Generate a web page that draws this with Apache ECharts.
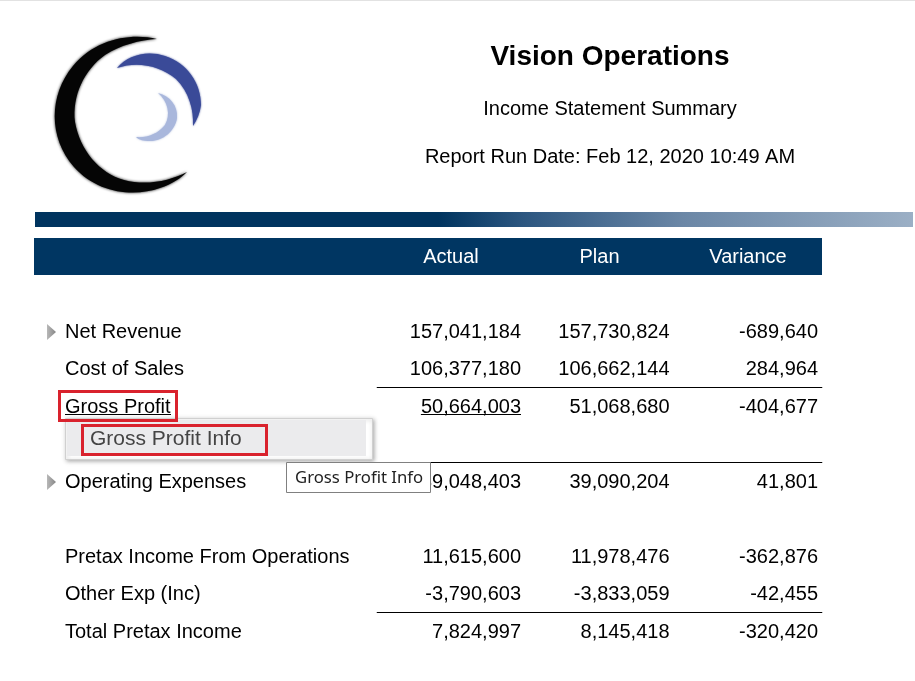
<!DOCTYPE html>
<html>
<head>
<meta charset="utf-8">
<title>Income Statement Summary</title>
<style>
  html, body { margin: 0; padding: 0; background: #fff; overflow: hidden; }
  #main { width: 915px; height: 681px; }
</style>
<script src="https://cdn.jsdelivr.net/npm/echarts@6/dist/echarts.min.js"></script>
</head>
<body>
<div id="main"></div>
<script>
var columns = ['Actual', 'Plan', 'Variance'];
var rows = ['', 'Net Revenue', 'Cost of Sales', 'Gross Profit', '', 'Operating Expenses', '',
  'Pretax Income From Operations', 'Other Exp (Inc)', 'Total Pretax Income'];
var actual = [null, 157041184, 106377180, 50664003, null, 39048403, null, 11615600, -3790603, 7824997];
var plan = [null, 157730824, 106662144, 51068680, null, 39090204, null, 11978476, -3833059, 8145418];
var variance = [null, -689640, 284964, -404677, null, 41801, null, -362876, -42455, -320420];
var ruleRows = [3, 5, 9];         // a line on top of these rows
var expandRows = [1, 5];          // rows with the grey arrow
var underlined = [[0, 3]];        // [column, row]

var FONT = '"Liberation Sans", Arial, sans-serif';
var ctx = document.createElement('canvas').getContext('2d');
ctx.font = '20px ' + FONT;

var cells = [];
[actual, plan, variance].forEach(function (list, c) {
  list.forEach(function (v, r) {
    if (v !== null) cells.push([c, r, v]);
  });
});

function renderCell(params, api) {
  var p = api.coord([api.value(0), api.value(1)]);
  var half = api.size([1, 0])[0] / 2;
  var str = api.value(2).toLocaleString('en-US');
  var right = p[0] + half - 4.25;
  var kids = [{
    type: 'text',
    style: { x: right, y: p[1], text: str, fill: '#000', font: '20px ' + FONT, align: 'right', verticalAlign: 'middle' }
  }];
  var isUnder = underlined.some(function (u) { return u[0] === api.value(0) && u[1] === api.value(1); });
  if (isUnder) {
    kids.push({
      type: 'line',
      shape: { x1: right - ctx.measureText(str).width, y1: Math.round(p[1] + 8) - 0.5, x2: right, y2: Math.round(p[1] + 8) - 0.5 },
      style: { stroke: '#000', lineWidth: 1 }
    });
  }
  return { type: 'group', children: kids };
}

function renderRule(params, api) {
  var p0 = api.coord([0, api.value(0)]);
  var p1 = api.coord([2, api.value(0)]);
  var s = api.size([1, 1]);
  // rules sit a pixel above the band edge
  var y = Math.round(p0[1] - s[1] / 2) - 0.5;
  return {
    type: 'line',
    shape: { x1: p0[0] - s[0] / 2, y1: y, x2: p1[0] + s[0] / 2, y2: y },
    style: { stroke: '#000', lineWidth: 1 }
  };
}

function renderArrow(params, api) {
  var p = api.coord([0, api.value(0)]);
  var x = 47;
  return {
    type: 'polygon',
    shape: { points: [[x, p[1] - 8], [x + 9, p[1]], [x, p[1] + 8]] },
    style: { fill: new echarts.graphic.LinearGradient(0, 0, 1, 0, [
      { offset: 0, color: '#b8b8b8' }, { offset: 1, color: '#858585' }]) }
  };
}

var logo = [
  { // black
    path: 'M157,39 C132,33 96,38 73,66 C49,95 48,137 74,167 C98,194 135,197 160,188 C172,184 181,178 187,172 ' +
      'C170,181 146,186 124,180 C99,173 80,150 75,122 C72,96 84,70 105,55 C120,45 140,40 157,39 Z',
    fill: '#050505', blur: 3
  },
  { // dark blue
    path: 'M117,68 C128,55 147,50 165,56 C187,63 201,83 201,105 C200,113 197,120 193,126 ' +
      'C194,110 189,92 176,79 C160,65 136,61 117,68 Z',
    fill: '#3a4a98', blur: 2
  },
  { // light blue
    path: 'M158,93 C170,96 178,106 177,118 C175,131 163,141 150,141 C144,141 139,140 136,137 ' +
      'C147,138 158,134 165,125 C171,115 168,101 158,93 Z',
    fill: '#a9b7dc', blur: 2
  }
];

function renderLogo(params) {
  var l = logo[params.dataIndex];
  return {
    type: 'path',
    shape: { pathData: l.path },
    style: { fill: l.fill, shadowBlur: l.blur, shadowColor: l.fill }
  };
}

var graphics = [
  { type: 'rect', z: -1, shape: { x: 0, y: 0, width: 915, height: 1 }, style: { fill: '#e2e2e2' } },
  { type: 'rect', z: -1, shape: { x: 35, y: 212, width: 878, height: 15 },
    style: { fill: new echarts.graphic.LinearGradient(0, 0, 1, 0, [
      { offset: 0, color: '#00345f' }, { offset: 0.46, color: '#00345f' },
      { offset: 0.556, color: '#2c5680' }, { offset: 0.738, color: '#6b87a6' }, { offset: 1, color: '#9bafc5' }]) } },
  { type: 'rect', z: -1, shape: { x: 34, y: 238, width: 788, height: 37 }, style: { fill: '#003662' } },

  { type: 'text', z: 5, style: { x: 610, y: 57, text: 'Vision Operations', fill: '#000', font: 'bold 28px ' + FONT, align: 'center', verticalAlign: 'middle' } },
  { type: 'text', z: 5, style: { x: 610, y: 109, text: 'Income Statement Summary', fill: '#000', font: '20px ' + FONT, align: 'center', verticalAlign: 'middle' } },
  { type: 'text', z: 5, style: { x: 610, y: 157, text: 'Report Run Date: Feb 12, 2020 10:49 AM', fill: '#000', font: '20px ' + FONT, align: 'center', verticalAlign: 'middle' } },

  // underline of the Gross Profit link
  { type: 'line', z: 5, shape: { x1: 65, y1: 414.5, x2: 171, y2: 414.5 }, style: { stroke: '#000', lineWidth: 1 } },

  // context menu
  { type: 'rect', z: 50, shape: { x: 65.5, y: 418.5, width: 307, height: 41 },
    style: { fill: '#fff', stroke: '#d0d0d0', lineWidth: 1, shadowBlur: 4, shadowColor: 'rgba(0,0,0,0.3)', shadowOffsetX: 1, shadowOffsetY: 1 } },
  { type: 'rect', z: 51, shape: { x: 67, y: 420, width: 299, height: 36 }, style: { fill: '#ebebed' } },
  { type: 'text', z: 52, style: { x: 90, y: 439, text: 'Gross Profit Info', fill: '#444', font: '21px ' + FONT, verticalAlign: 'middle' } },

  // tooltip
  { type: 'rect', z: 60, shape: { x: 286.5, y: 462.5, width: 144, height: 30 }, style: { fill: '#fff', stroke: '#808080', lineWidth: 1 } },
  { type: 'text', z: 61, style: { x: 295, y: 478, text: 'Gross Profit Info', fill: '#222', font: '16.7px "Noto Sans", sans-serif', verticalAlign: 'middle' } },

  // red highlights
  { type: 'rect', z: 70, shape: { x: 59.5, y: 391.5, width: 117, height: 29 }, style: { fill: 'none', stroke: '#d9222d', lineWidth: 3 } },
  { type: 'rect', z: 70, shape: { x: 82.5, y: 425.5, width: 184, height: 29 }, style: { fill: 'none', stroke: '#d9222d', lineWidth: 3 } }
];

var chart = echarts.init(document.getElementById('main'));
chart.setOption({
  animation: false,
  backgroundColor: '#fff',
  grid: { left: 376.75, top: 275.75, width: 445.5, height: 375, containLabel: false },
  xAxis: {
    type: 'category',
    position: 'top',
    data: columns,
    axisLine: { show: false },
    axisTick: { show: false },
    splitLine: { show: false },
    axisLabel: { color: '#fff', fontFamily: FONT, fontSize: 20, margin: 8, interval: 0 }
  },
  yAxis: {
    type: 'category',
    inverse: true,
    data: rows,
    axisLine: { show: false },
    axisTick: { show: false },
    splitLine: { show: false },
    axisLabel: { color: '#000', fontFamily: FONT, fontSize: 20, align: 'left', margin: 311.75, interval: 0 }
  },
  series: [
    { type: 'custom', coordinateSystem: 'none', z: 3, silent: true, renderItem: renderLogo, data: [0, 1, 2] },
    { type: 'custom', z: 3, silent: true, renderItem: renderRule, encode: { y: 0 }, data: ruleRows.map(function (r) { return [r]; }) },
    { type: 'custom', z: 3, silent: true, renderItem: renderArrow, data: expandRows.map(function (r) { return [r]; }) },
    { type: 'custom', z: 3, silent: true, renderItem: renderCell, encode: { x: 0, y: 1 }, data: cells }
  ],
  graphic: { elements: graphics }
});
</script>
</body>
</html>
